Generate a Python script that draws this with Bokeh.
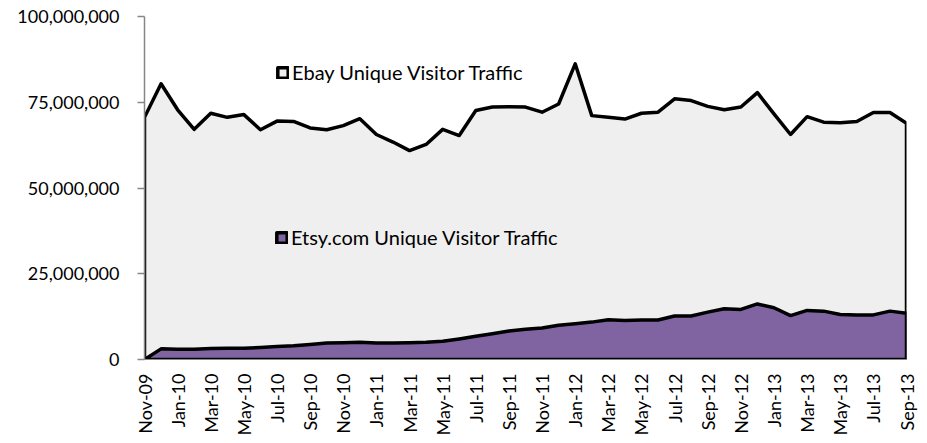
from bokeh.plotting import figure
from bokeh.models import (Range1d, FixedTicker, NumeralTickFormatter, Legend, LegendItem)
from bokeh.embed import file_html
from bokeh.resources import INLINE
import math

months = ["Nov-09", "Dec-09",
          "Jan-10", "Feb-10", "Mar-10", "Apr-10", "May-10", "Jun-10", "Jul-10", "Aug-10", "Sep-10", "Oct-10", "Nov-10", "Dec-10",
          "Jan-11", "Feb-11", "Mar-11", "Apr-11", "May-11", "Jun-11", "Jul-11", "Aug-11", "Sep-11", "Oct-11", "Nov-11", "Dec-11",
          "Jan-12", "Feb-12", "Mar-12", "Apr-12", "May-12", "Jun-12", "Jul-12", "Aug-12", "Sep-12", "Oct-12", "Nov-12", "Dec-12",
          "Jan-13", "Feb-13", "Mar-13", "Apr-13", "May-13", "Jun-13", "Jul-13", "Aug-13", "Sep-13"]

ebay = [70600000, 80400000, 72800000, 67100000, 71800000, 70600000, 71400000, 67000000,
        69500000, 69400000, 67500000, 67000000, 68200000, 70200000, 65600000, 63400000,
        60900000, 62700000, 67100000, 65300000, 72600000, 73600000, 73700000, 73600000,
        72100000, 74500000, 86200000, 71100000, 70600000, 70100000, 71800000, 72100000,
        76000000, 75500000, 73800000, 72800000, 73600000, 77800000, 71600000, 65600000,
        70800000, 69200000, 69000000, 69400000, 72000000, 72000000, 68900000]

etsy = [0, 3100000, 3000000, 3000000, 3200000, 3300000, 3300000, 3500000,
        3800000, 4000000, 4400000, 4800000, 4900000, 5000000, 4800000, 4800000,
        4900000, 5000000, 5300000, 6000000, 6800000, 7500000, 8300000, 8800000,
        9200000, 10000000, 10400000, 10900000, 11600000, 11400000, 11500000, 11500000,
        12700000, 12700000, 13800000, 14800000, 14600000, 16200000, 15100000, 12800000,
        14300000, 14100000, 13100000, 13000000, 13000000, 14100000, 13500000]

y_ticks = [0, 25000000, 50000000, 75000000, 100000000]

FONT = "Lato"
n = len(months)
idx = list(range(n))

p = figure(width=919, height=440, output_backend="svg", toolbar_location=None,
           x_range=Range1d(0, n - 1), y_range=Range1d(0, 100000000),
           min_border_left=144, min_border_right=13, min_border_top=16, min_border_bottom=81)
p.outline_line_color = None
p.xgrid.grid_line_color = None
p.ygrid.grid_line_color = None
p.background_fill_color = "white"

xs = idx + [n - 1, 0]
r_ebay = p.patch(xs, ebay + [0, 0], fill_color="#EFEFEF", line_color="black",
                 line_width=3.5, line_join="round")
r_etsy = p.patch(xs, etsy + [0, 0], fill_color="#8064A2", line_color="black",
                 line_width=3.5, line_join="round")

# axes
p.yaxis.ticker = FixedTicker(ticks=y_ticks)
p.yaxis.formatter = NumeralTickFormatter(format="0,0")
p.yaxis.axis_line_color = "#868686"
p.yaxis.axis_line_width = 1.5
p.yaxis.major_tick_line_color = "#868686"
p.yaxis.major_tick_line_width = 1.5
p.yaxis.major_tick_out = 7
p.yaxis.major_tick_in = 0
p.yaxis.minor_tick_line_color = None
p.yaxis.major_label_standoff = 18
p.yaxis.major_label_text_font = FONT
p.yaxis.major_label_text_font_size = "18px"
p.yaxis.major_label_text_color = "black"

p.xaxis.ticker = FixedTicker(ticks=idx[::2])
p.xaxis.major_label_overrides = {i: months[i] for i in idx[::2]}
p.xaxis.major_label_orientation = math.pi / 2
p.xaxis.axis_line_color = "#868686"
p.xaxis.major_tick_line_color = None
p.xaxis.minor_tick_line_color = None
p.xaxis.major_label_standoff = 8
p.xaxis.major_label_text_font = FONT
p.xaxis.major_label_text_font_size = "18px"
p.xaxis.major_label_text_color = "black"

def make_legend(label, renderer, loc):
    lg = Legend(items=[LegendItem(label=label, renderers=[renderer])], location=loc,
                background_fill_alpha=0, border_line_alpha=0, padding=0, margin=0,
                glyph_width=13, glyph_height=13, label_standoff=3,
                label_text_font=FONT, label_text_font_size="20px", label_text_color="black")
    return lg

p.add_layout(make_legend("Ebay Unique Visitor Traffic", r_ebay, (132, 275)), "center")
p.add_layout(make_legend("Etsy.com Unique Visitor Traffic", r_etsy, (131, 110)), "center")

open("out.html", "w").write(file_html(p, INLINE))
